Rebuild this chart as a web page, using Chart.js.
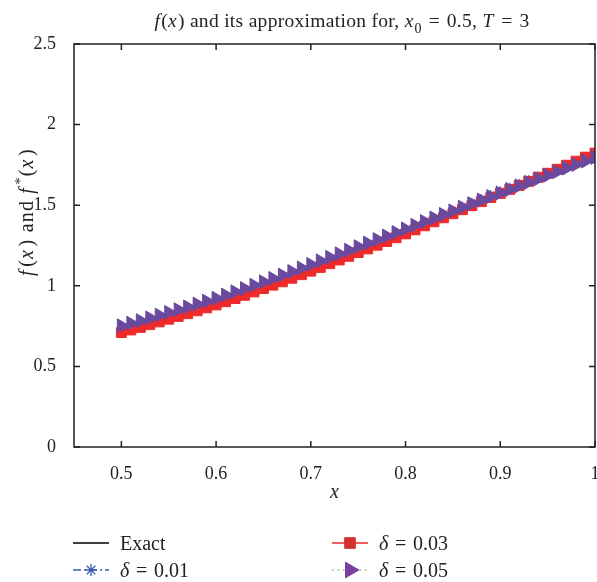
<!DOCTYPE html>
<html>
<head>
<meta charset="UTF-8">
<title>f(x) and its approximation</title>
<script src="https://cdn.jsdelivr.net/npm/chart.js"></script>
<style>
  body { margin: 0; background: #fff; }
  #wrap { width: 597px; height: 582px; }
</style>
</head>
<body>
<div id="wrap"><canvas id="graph" width="597" height="582"></canvas></div>
<script>
// data
const xValues = [0.50, 0.51, 0.52, 0.53, 0.54, 0.55, 0.56, 0.57, 0.58, 0.59,
                 0.60, 0.61, 0.62, 0.63, 0.64, 0.65, 0.66, 0.67, 0.68, 0.69,
                 0.70, 0.71, 0.72, 0.73, 0.74, 0.75, 0.76, 0.77, 0.78, 0.79,
                 0.80, 0.81, 0.82, 0.83, 0.84, 0.85, 0.86, 0.87, 0.88, 0.89,
                 0.90, 0.91, 0.92, 0.93, 0.94, 0.95, 0.96, 0.97, 0.98, 0.99, 1.00];
const exactValues = [0.730, 0.746, 0.762, 0.779, 0.796, 0.813, 0.830, 0.847, 0.865, 0.883,
                     0.901, 0.921, 0.941, 0.961, 0.982, 1.003, 1.024, 1.045, 1.067, 1.089,
                     1.111, 1.134, 1.157, 1.180, 1.203, 1.226, 1.249, 1.272, 1.295, 1.318,
                     1.341, 1.365, 1.389, 1.413, 1.437, 1.461, 1.485, 1.509, 1.533, 1.557,
                     1.581, 1.604, 1.627, 1.650, 1.673, 1.696, 1.719, 1.742, 1.765, 1.788, 1.811];
const delta01Values = [0.738, 0.754, 0.770, 0.787, 0.804, 0.821, 0.838, 0.855, 0.873, 0.891,
                       0.909, 0.929, 0.949, 0.969, 0.990, 1.011, 1.032, 1.053, 1.075, 1.097,
                       1.119, 1.142, 1.165, 1.188, 1.211, 1.234, 1.257, 1.280, 1.303, 1.326,
                       1.349, 1.373, 1.397, 1.421, 1.445, 1.469, 1.493, 1.517, 1.541, 1.565,
                       1.589, 1.612, 1.635, 1.658, 1.681, 1.704, 1.727, 1.750, 1.773, 1.796, 1.819];
const delta03Values = [0.710, 0.726, 0.742, 0.759, 0.776, 0.793, 0.810, 0.827, 0.845, 0.863,
                       0.881, 0.901, 0.921, 0.941, 0.962, 0.983, 1.004, 1.025, 1.047, 1.069,
                       1.091, 1.114, 1.137, 1.160, 1.183, 1.206, 1.229, 1.252, 1.275, 1.298,
                       1.322, 1.347, 1.372, 1.397, 1.422, 1.447, 1.472, 1.497, 1.522, 1.548,
                       1.573, 1.598, 1.623, 1.648, 1.673, 1.698, 1.723, 1.748, 1.773, 1.798, 1.823];
const delta05Values = [0.752, 0.768, 0.784, 0.801, 0.818, 0.835, 0.852, 0.869, 0.887, 0.905,
                       0.923, 0.943, 0.963, 0.983, 1.004, 1.025, 1.046, 1.067, 1.089, 1.111,
                       1.133, 1.155, 1.177, 1.199, 1.221, 1.243, 1.265, 1.287, 1.309, 1.331,
                       1.353, 1.376, 1.399, 1.421, 1.443, 1.465, 1.488, 1.510, 1.532, 1.554,
                       1.576, 1.598, 1.620, 1.642, 1.664, 1.686, 1.708, 1.730, 1.752, 1.774, 1.796];
const xTicks = [0.5, 0.6, 0.7, 0.8, 0.9, 1];
const yTicks = [0, 0.5, 1, 1.5, 2, 2.5];
const seriesLabels = ['Exact', 'δ = 0.01', 'δ = 0.03', 'δ = 0.05'];

const SERIF = '"Liberation Serif", "DejaVu Serif", serif';
const EQ = '\u2004=\u2004';

function pts(ys) {
    return xValues.map((x, i) => ({ x: x, y: ys[i] }));
}

// text made of pieces: r = roman, i = italic, sub / sup = small roman
function richText(ctx, parts, x, y, size, spacing, italicGap) {
    const fontFor = k => (k === 'i' ? 'italic ' : '') +
        ((k === 'sub' || k === 'sup') ? Math.round(size * 0.7) : size) + 'px ' + SERIF;
    ctx.letterSpacing = (spacing || 0) + 'px';
    const gap = k => (k === 'i' ? (italicGap || 0) * size : 0);
    let w = 0;
    parts.forEach(p => { ctx.font = fontFor(p[1]); w += ctx.measureText(p[0]).width + gap(p[1]); });
    let cx = x - w / 2;
    ctx.textAlign = 'left';
    ctx.textBaseline = 'alphabetic';
    parts.forEach(p => {
        ctx.font = fontFor(p[1]);
        const dy = p[1] === 'sub' ? size * 0.3 : (p[1] === 'sup' ? -size * 0.4 : 0);
        ctx.fillText(p[0], cx, y + dy);
        cx += ctx.measureText(p[0]).width + gap(p[1]);
    });
    ctx.letterSpacing = '0px';
    return w;
}

// box, inward ticks, titles, legend
const decorPlugin = {
    id: 'decor',
    afterDraw(chart) {
        const ctx = chart.ctx;
        const a = chart.chartArea;
        const xs = chart.scales.x, ys = chart.scales.y;
        ctx.save();
        ctx.strokeStyle = '#222';
        ctx.lineWidth = 1.5;
        ctx.setLineDash([]);
        ctx.strokeRect(a.left, a.top, a.right - a.left, a.bottom - a.top);
        ctx.beginPath();
        xTicks.forEach(v => {
            const px = xs.getPixelForValue(v);
            ctx.moveTo(px, a.bottom); ctx.lineTo(px, a.bottom - 6);
            ctx.moveTo(px, a.top); ctx.lineTo(px, a.top + 6);
        });
        yTicks.forEach(v => {
            const py = ys.getPixelForValue(v);
            ctx.moveTo(a.left, py); ctx.lineTo(a.left + 6, py);
            ctx.moveTo(a.right, py); ctx.lineTo(a.right - 6, py);
        });
        ctx.stroke();

        ctx.fillStyle = '#222';
        // title
        richText(ctx, [['f', 'i'], ['(', 'r'], ['x', 'i'], [')', 'r'],
            [' and its approximation for, ', 'r'], ['x', 'i'], ['0', 'sub'],
            [EQ + '0.5, ', 'r'], ['T', 'i'], [EQ + '3', 'r']], 342, 27, 19.5, 0.3, 0.05);
        // x axis title
        richText(ctx, [['x', 'i']], (a.left + a.right) / 2, 498, 20);
        // y axis title
        ctx.save();
        ctx.translate(33, 212);
        ctx.rotate(-Math.PI / 2);
        richText(ctx, [['f', 'i'], ['(', 'r'], ['x', 'i'], [')', 'r'], [' and ', 'r'],
            ['f', 'i'], ['*', 'sup'], ['(', 'r'], ['x', 'i'], [')', 'r']], 0, 0, 20, 1.2, 0.12);
        ctx.restore();

        // legend: two columns
        const spots = [[73, 543], [73, 570], [332, 543], [332, 570]];
        chart.data.datasets.forEach((ds, i) => {
            const sx = spots[i][0], sy = spots[i][1];
            ctx.save();
            ctx.strokeStyle = ds.borderColor;
            ctx.lineWidth = 1.3;
            ctx.setLineDash(ds.borderDash || []);
            ctx.beginPath();
            ctx.moveTo(sx, sy); ctx.lineTo(sx + 36, sy);
            ctx.stroke();
            ctx.setLineDash([]);
            if (ds.pointRadius > 0) {
                ctx.fillStyle = ds.legendFill || ds.pointBackgroundColor;
                ctx.strokeStyle = ds.legendFill || ds.pointBorderColor;
                ctx.lineWidth = ds.pointBorderWidth;
                Chart.helpers.drawPoint(ctx, {
                    pointStyle: ds.pointStyle,
                    radius: ds.legendRadius || ds.pointRadius,
                    rotation: ds.pointRotation || 0,
                    borderWidth: ds.pointBorderWidth
                }, sx + 18, sy);
            }
            ctx.restore();
            ctx.fillStyle = '#222';
            const lab = seriesLabels[i];
            const parts = lab.startsWith('δ')
                ? [['δ', 'i'], [lab.slice(1).replace(' = ', EQ), 'r']]
                : [[lab, 'r']];
            let w = 0;
            parts.forEach(p => {
                ctx.font = (p[1] === 'i' ? 'italic ' : '') + '20px ' + SERIF;
                w += ctx.measureText(p[0]).width;
            });
            richText(ctx, parts, sx + 47 + w / 2, sy + 7, 20);
        });
        ctx.restore();
    }
};

const ctx = document.getElementById('graph').getContext('2d');
const chart = new Chart(ctx, {
    type: 'line',
    data: {
        datasets: [{
            label: seriesLabels[0],
            data: pts(exactValues),
            borderColor: '#000000',
            borderWidth: 1.2,
            pointRadius: 0,
            order: 4
        }, {
            label: seriesLabels[1],
            data: pts(delta01Values),
            borderColor: '#3b5db4',
            borderWidth: 1.2,
            borderDash: [8, 3, 2, 3],
            pointStyle: 'star',
            pointRadius: 4.5,
            pointBorderWidth: 1.3,
            pointBackgroundColor: '#3b5db4',
            pointBorderColor: '#3b5db4',
            legendRadius: 6,
            order: 3
        }, {
            label: seriesLabels[2],
            data: pts(delta03Values),
            borderColor: '#ee2a2a',
            borderWidth: 1.2,
            pointStyle: 'rect',
            pointRadius: 7,
            pointBorderWidth: 1,
            pointBackgroundColor: '#ee2a2a',
            pointBorderColor: '#ee2a2a',
            legendFill: '#d33030',
            legendRadius: 7.5,
            order: 2
        }, {
            label: seriesLabels[3],
            data: pts(delta05Values),
            borderColor: '#7cc576',
            borderWidth: 1.2,
            borderDash: [1.5, 4],
            pointStyle: 'triangle',
            pointRotation: 90,
            pointRadius: 8,
            pointBorderWidth: 1,
            pointBackgroundColor: '#6a4a9e',
            pointBorderColor: '#6a4a9e',
            legendFill: '#7a3f9f',
            legendRadius: 9,
            order: 1
        }]
    },
    options: {
        responsive: false,
        animation: false,
        layout: { autoPadding: false, padding: { top: 44, right: 2, left: 0, bottom: 0 } },
        plugins: {
            legend: { display: false },
            title: { display: false },
            tooltip: { enabled: false }
        },
        scales: {
            x: {
                type: 'linear',
                min: 0.45,
                max: 1,
                afterBuildTicks: s => { s.ticks = xTicks.map(v => ({ value: v })); },
                afterFit: s => { s.height = 135; s.paddingLeft = 0; s.paddingRight = 0; },
                grid: { display: false },
                border: { display: false },
                ticks: {
                    color: '#222',
                    padding: 8,
                    maxRotation: 0,
                    font: { family: SERIF, size: 18 },
                    callback: v => String(v)
                }
            },
            y: {
                min: 0,
                max: 2.5,
                afterBuildTicks: s => { s.ticks = yTicks.map(v => ({ value: v })); },
                afterFit: s => { s.width = 74; s.paddingTop = 0; s.paddingBottom = 0; },
                grid: { display: false },
                border: { display: false },
                ticks: {
                    color: '#222',
                    padding: 10,
                    font: { family: SERIF, size: 18 },
                    callback: v => String(v)
                }
            }
        }
    },
    plugins: [decorPlugin]
});
</script>
</body>
</html>
